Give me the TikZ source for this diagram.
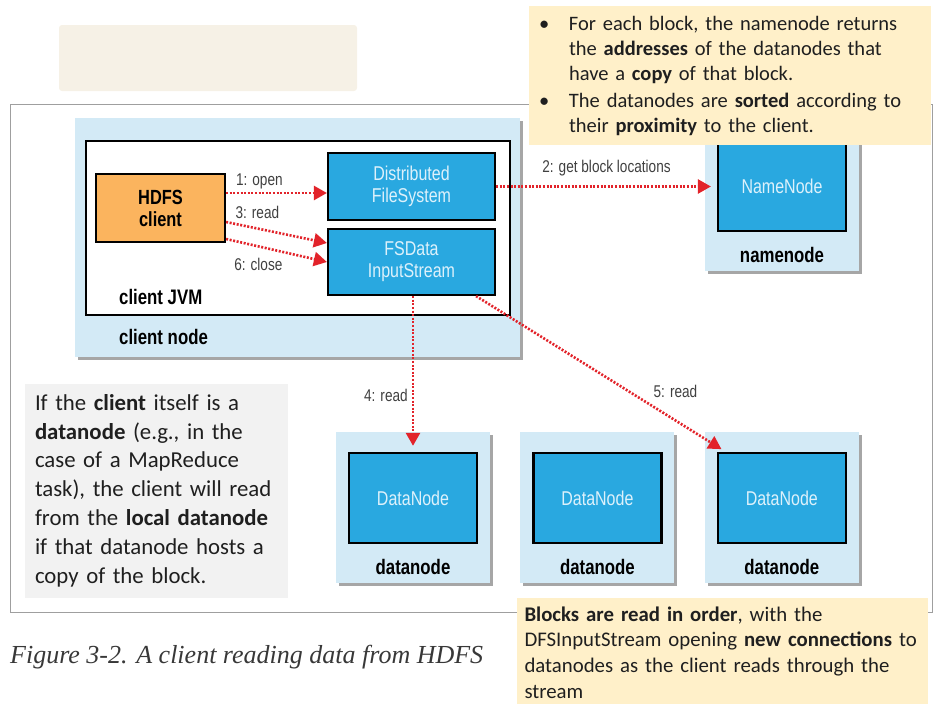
\documentclass[tikz,border=0pt]{standalone}
\usepackage{fontspec}
\setmainfont{Carlito}
\newfontfamily\condfont[FakeStretch=0.8]{Liberation Sans}
\newfontfamily\capfont{Liberation Serif}
\usetikzlibrary{positioning,arrows.meta,shadows}

\definecolor{hostblue}{HTML}{D3EAF6}
\definecolor{procblue}{HTML}{29A8E0}
\definecolor{proctext}{HTML}{DDF1FB}
\definecolor{clientorange}{HTML}{FBB45E}
\definecolor{readred}{HTML}{E2232A}
\definecolor{notegray}{HTML}{F2F2F2}
\definecolor{noteyellow}{HTML}{FFF0C9}
\definecolor{blankbeige}{HTML}{F6F1E6}
\definecolor{lblgray}{HTML}{404040}

\tikzset{
  host/.style = {fill=hostblue, minimum width=154pt, minimum height=151pt, inner sep=0pt,
    drop shadow={shadow xshift=3pt, shadow yshift=-3pt, fill=black, opacity=0.35}},
  proc/.style = {draw, line width=2.2pt, fill=procblue, text=proctext, inner sep=0pt,
    align=center, font=\condfont\fontsize{20}{22}\selectfont},
  daemon/.style = {proc, minimum width=128pt, minimum height=90pt},
  stream/.style = {proc, minimum width=167pt, minimum height=67pt},
  hostlbl/.style = {inner sep=2pt, font=\condfont\bfseries\fontsize{21}{24}\selectfont},
  lbl/.style = {text=lblgray, inner sep=2pt, font=\condfont\fontsize{17}{20}\selectfont},
  readarrow/.style = {readred, line width=2.6pt, dash pattern=on 2pt off 1.6pt,
    -{Triangle[length=13pt,width=14pt]}},
  note/.style = {inner ysep=0pt, inner xsep=10pt, align=left, text=black!88}
}

\begin{document}
\begin{tikzpicture}[x=1pt, y=-1pt]
\useasboundingbox (0,0) rectangle (938,704);
% empty box, frame
\fill[blankbeige, rounded corners=3pt] (59,25) rectangle (357,91);
\draw[gray!75, line width=1pt] (10,104) rectangle (932,612);

% client node
\node[host, minimum width=445pt, minimum height=239pt] (client) at (297.5,237.5) {};
\node[draw, line width=2.2pt, fill=white, minimum width=424pt, minimum height=174pt] (jvm) at (298,228) {};
\node[hostlbl, anchor=west] (jvmlbl) at (117,297) {client JVM};
\node[hostlbl, anchor=west] (clientlbl) at (117,337) {client node};
\node[proc, fill=clientorange, text=black, font=\condfont\bfseries\fontsize{20.5}{22}\selectfont,
  minimum width=129pt, minimum height=68pt] (hdfs) at (160.5,208) {HDFS\\client};
\node[stream] (dfs) at (411.5,186.5) {Distributed\\FileSystem};
\node[stream, minimum height=66pt] (fsdata) at (411.5,262) {FSData\\InputStream};

% namenode
\node[host] (nnhost) at (782,195.5) {};
\node[daemon] (nn) [below=20pt of nnhost.north] {NameNode};
\node[hostlbl] (nnlbl) [below=13pt of nn] {namenode};

% datanodes
\node[host] (dnhost1) at (413,507.5) {};
\node[host] (dnhost2) [right=30pt of dnhost1] {};
\node[host] (dnhost3) [right=30pt of dnhost2] {};
\node[daemon] (dn1) [below=20pt of dnhost1.north] {DataNode};
\node[daemon] (dn2) [below=20pt of dnhost2.north] {DataNode};
\node[daemon] (dn3) [below=20pt of dnhost3.north] {DataNode};
\node[hostlbl] (dnlbl1) [below=13pt of dn1] {datanode};
\node[hostlbl] (dnlbl2) [below=13pt of dn2] {datanode};
\node[hostlbl] (dnlbl3) [below=13pt of dn3] {datanode};

% read path
\draw[readarrow] ([yshift=15pt]hdfs.east) -- node[lbl, above=1pt, pos=0.33] (openlbl) {1: open} ([yshift=-6.5pt]dfs.west);
\draw[readarrow] ([yshift=-14pt]hdfs.east) -- node[lbl, above=6.5pt, pos=0.31] (readlbl) {3: read} ([yshift=19pt]fsdata.west);
\draw[readarrow] ([yshift=-31pt]hdfs.east) -- node[lbl, below=9pt, pos=0.32] (closelbl) {6: close} (fsdata.west);
\draw[readarrow, shorten >=6pt] (dfs.east) -- node[lbl, above=7pt, pos=0.5] (locslbl) {2: get block locations} (dfs.east -| nn.west);
\draw[readarrow, shorten >=6pt] (dn1.north |- fsdata.south) -- node[lbl, left=2pt, pos=0.636] (read4lbl) {4: read} (dn1.north);
\draw[readarrow, shorten >=5pt] ([xshift=-20pt]fsdata.south east) -- node[lbl, right=22pt, pos=0.61] (read5lbl) {5: read} ([xshift=9pt]dn3.north west);

% notes
\node[note, fill=noteyellow, minimum width=402pt, minimum height=139pt, text width=382pt,
  font=\fontsize{20.5}{25}\selectfont] (locsnote) at (730,75.5) {%
\makebox[30pt][l]{\textbullet}For each block, the namenode returns\\
\hspace*{30pt}the \textbf{addresses} of the datanodes that\\
\hspace*{30pt}have a \textbf{copy} of that block.\\[2pt]
\makebox[30pt][l]{\textbullet}The datanodes are \textbf{sorted} according to\\
\hspace*{30pt}their \textbf{proximity} to the client.};
\node[note, fill=notegray, minimum width=263pt, minimum height=214pt, text width=243pt,
  font=\fontsize{22.8}{28.8}\selectfont] (localnote) at (156.5,490.5) {%
If the \textbf{client} itself is a\\
\textbf{datanode} (e.g., in the\\
case of a MapReduce\\
task), the client will read\\
from the \textbf{local datanode}\\
if that datanode hosts a\\
copy of the block.};
\node[note, inner xsep=7.5pt, fill=noteyellow, minimum width=411pt, minimum height=109pt, text width=396pt,
  font=\fontsize{20.8}{25.7}\selectfont] (ordernote) at (722.5,652.5) {%
\textbf{Blocks are read in order}, with the\\
DFSInputStream opening \textbf{new connections} to\\
datanodes as the client reads through the\\
stream};

\node[anchor=west, inner sep=0pt, text=black!78, font=\capfont\itshape\fontsize{26}{30}\selectfont] (caption) at (10,657) {Figure 3-2. A client reading data from HDFS};
\end{tikzpicture}
\end{document}
